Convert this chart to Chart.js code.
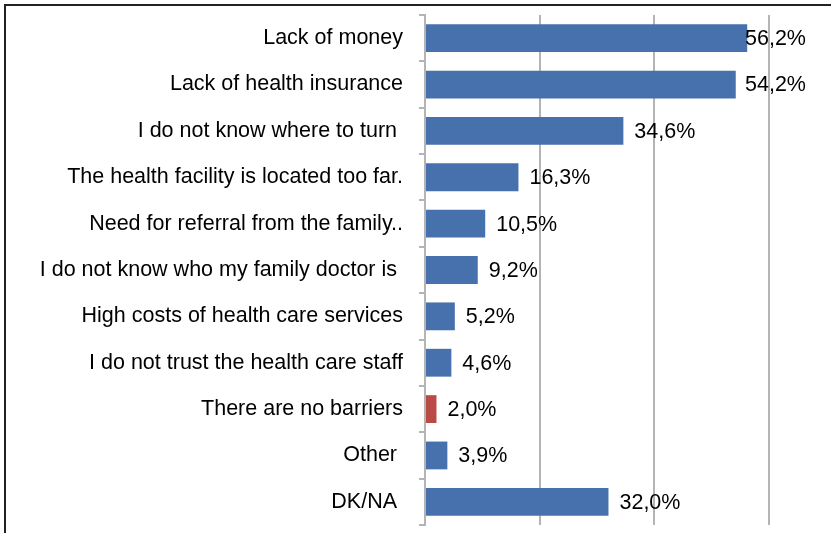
<!DOCTYPE html>
<html>
<head>
<meta charset="utf-8">
<script src="https://cdn.jsdelivr.net/npm/chart.js@4/dist/chart.umd.min.js"></script>
<style>
  html, body { margin: 0; padding: 0; background: #fff; }
  #wrap { position: relative; width: 831px; height: 533px; overflow: hidden; }
  #frame { position: absolute; left: 4px; top: 4px; width: 840px; height: 540px;
           border-left: 2px solid #222; border-top: 2px solid #222; pointer-events: none; }
</style>
</head>
<body>
<div id="wrap">
  <canvas id="barriers" width="831" height="533"></canvas>
  <div id="frame"></div>
</div>
<script>
// Reasons for not seeking care, share of respondents (%)
const reasons = [
  'Lack of money',
  'Lack of health insurance',
  'I do not know where to turn ',
  'The health facility is located too far.',
  'Need for referral from the family..',
  'I do not know who my family doctor is ',
  'High costs of health care services',
  'I do not trust the health care staff',
  'There are no barriers',
  'Other ',
  'DK/NA '
];
const shares = [56.2, 54.2, 34.6, 16.3, 10.5, 9.2, 5.2, 4.6, 2.0, 3.9, 32.0];
const xTicks = [0, 20, 40, 60];

const BLUE = '#4671ad';
const RED = '#b94a46';
const GRID = '#b4b4b4';
const FONT = '"Liberation Sans", Arial, sans-serif';

const barColors = reasons.map(r => r === 'There are no barriers' ? RED : BLUE);

const fmt = v => v.toFixed(1).replace('.', ',') + '%';

// value labels next to each bar, kept inside the right margin
const valueLabels = {
  id: 'valueLabels',
  afterDatasetsDraw(chart) {
    const ctx = chart.ctx;
    const xs = chart.scales.x;
    const meta = chart.getDatasetMeta(0);
    ctx.save();
    ctx.font = '21.5px ' + FONT;
    ctx.fillStyle = '#000';
    ctx.textBaseline = 'middle';
    ctx.textAlign = 'left';
    meta.data.forEach((bar, i) => {
      const end = xs.getPixelForValue(shares[i]);
      ctx.fillText(fmt(shares[i]), Math.min(end + 11, 745), bar.y + 1);
    });
    ctx.restore();
  }
};

new Chart(document.getElementById('barriers').getContext('2d'), {
  type: 'bar',
  data: {
    labels: reasons,
    datasets: [{
      data: shares,
      backgroundColor: barColors,
      borderWidth: 0,
      barPercentage: 0.6,
      categoryPercentage: 1
    }]
  },
  plugins: [valueLabels],
  options: {
    indexAxis: 'y',
    responsive: false,
    animation: false,
    devicePixelRatio: 1,
    layout: { padding: { left: 0, right: 62, top: 15, bottom: 8 } },
    plugins: { legend: { display: false }, tooltip: { enabled: false } },
    scales: {
      x: {
        min: 0,
        max: 60,
        afterBuildTicks(scale) { scale.ticks = xTicks.map(v => ({ value: v })); },
        afterFit(scale) {
          scale.height = 0;
          scale.paddingLeft = 0;
          scale.paddingRight = 0;
        },
        ticks: { display: false },
        grid: { color: GRID, lineWidth: 2, drawTicks: false },
        border: { display: false }
      },
      y: {
        afterFit(scale) {
          scale.width = 425;
          scale.paddingTop = 0;
          scale.paddingBottom = 0;
        },
        ticks: { color: '#000', font: { family: FONT, size: 21.5 }, padding: 16, autoSkip: false },
        grid: { drawOnChartArea: false, color: GRID, lineWidth: 2, tickLength: 6, offset: true },
        border: { display: true, color: GRID, width: 2 }
      }
    }
  }
});
</script>
</body>
</html>
